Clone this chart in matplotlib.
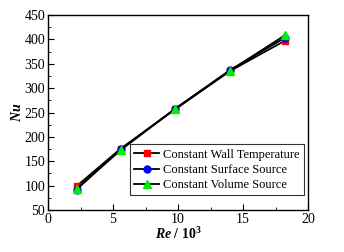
import matplotlib
matplotlib.use("Agg")
import matplotlib.pyplot as plt
from matplotlib.ticker import MultipleLocator

plt.rcParams['font.family'] = ['Liberation Serif', 'DejaVu Serif']
plt.rcParams['mathtext.fontset'] = 'custom'
plt.rcParams['mathtext.rm'] = 'Liberation Serif'
plt.rcParams['mathtext.it'] = 'Liberation Serif:italic'
plt.rcParams['mathtext.bf'] = 'Liberation Serif:bold'
plt.rcParams['mathtext.bfit'] = 'Liberation Serif:italic:bold'

re_vals = [2.2, 5.6, 9.8, 14.0, 18.2]
nu_wall = [99, 176, 257, 335, 397]
nu_surface = [92, 175, 258, 337, 403]
nu_volume = [94, 173, 258, 336, 408]
labels = ["Constant Wall Temperature", "Constant Surface Source", "Constant Volume Source"]

fig = plt.figure(figsize=(3.44, 2.52), dpi=100)
ax = fig.add_axes([48/344, 42/252, 260/344, 195/252])

ax.plot(re_vals, nu_wall, '-', color='black', lw=1.3, marker='s', mfc='red', mec='red', ms=5, label=labels[0])
ax.plot(re_vals, nu_surface, '-', color='black', lw=1.3, marker='o', mfc='blue', mec='blue', ms=5, label=labels[1])
ax.plot(re_vals, nu_volume, '-', color='black', lw=1.3, marker='^', mfc='#00ee00', mec='#00ee00', ms=6, label=labels[2])

ax.set_xlim(0, 20)
ax.set_ylim(50, 450)
ax.xaxis.set_major_locator(MultipleLocator(5))
ax.xaxis.set_minor_locator(MultipleLocator(2.5))
ax.yaxis.set_major_locator(MultipleLocator(50))
ax.yaxis.set_minor_locator(MultipleLocator(25))
ax.tick_params(which='both', direction='in', top=False, right=False, labelsize=10, pad=2)
ax.tick_params(which='major', length=4)
ax.tick_params(which='minor', length=2)
for s in ax.spines.values():
    s.set_linewidth(1.0)

ax.set_xlabel(r'$\mathbfit{Re}$ / 10$^\mathbf{3}$', fontsize=10, fontweight='bold', labelpad=0)
ax.set_ylabel(r'$\mathbfit{Nu}$', fontsize=10, labelpad=0)

leg = ax.legend(loc='lower right', fontsize=9, frameon=True, fancybox=False, edgecolor='black',
                handlelength=2.0, borderpad=0.35, labelspacing=0.25, handletextpad=0.3,
                borderaxespad=0, bbox_to_anchor=(0.985, 0.075))
leg.get_frame().set_linewidth(0.8)

fig.savefig('out.png', dpi=100)
